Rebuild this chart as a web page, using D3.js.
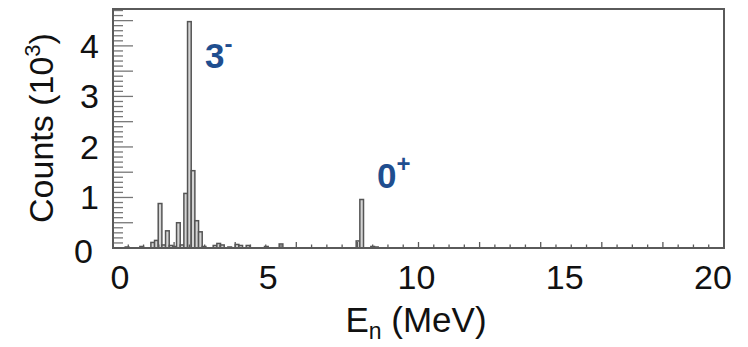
<!DOCTYPE html>
<html>
<head>
<meta charset="utf-8">
<script src="https://cdn.jsdelivr.net/npm/d3@7"></script>
<style>
  html, body { margin: 0; padding: 0; background: #ffffff; }
  svg { display: block; }
  text { font-family: "Liberation Sans", Arial, sans-serif; }
</style>
</head>
<body>
<svg id="chart" width="748" height="347"></svg>
<script>
// ---- data (counts in units of 10^3, energies in MeV) ----
const binWidth = 0.12;
const binLeft = [0.40, 0.88, 1.24, 1.36, 1.48, 1.60, 1.72, 1.84, 1.96, 2.08, 2.20, 2.32, 2.44, 2.56, 2.68, 2.80, 2.92, 3.28, 3.40, 3.52, 3.76, 4.00, 4.12, 4.36, 4.96, 5.44, 7.96, 8.08, 8.44, 8.56];
const counts  = [0.02, 0.03, 0.11, 0.15, 0.88, 0.06, 0.34, 0.05, 0.03, 0.50, 0.06, 1.08, 4.48, 1.53, 0.54, 0.32, 0.03, 0.05, 0.09, 0.06, 0.02, 0.07, 0.05, 0.05, 0.03, 0.08, 0.14, 0.96, 0.03, 0.02];
const xTickLabels = [0, 5, 10, 15, 20];
const yTickLabels = [0, 1, 2, 3, 4];
const peakLabels = [{ base: "3", sup: "-", e: 3.01, c: 3.56 }, { base: "0", sup: "+", e: 8.64, c: 1.19 }];

// ---- layout ----
const svg = d3.select("#chart");
const plot = { left: 113, right: 724, top: 9, bottom: 248 };
const x = d3.scaleLinear().domain([0, 20]).range([plot.left, plot.right]);
const y = d3.scaleLinear().domain([0, 4.73]).range([plot.bottom, plot.top]);
// tick labels in the figure are placed slightly inside the axis ends
const xLab = d3.scaleLinear().domain([0, 20]).range([plot.left + 7, plot.right - 11]);
const frameColor = "#5a5a5a";

// histogram bars
const bars = binLeft.map((e, i) => ({ e, c: counts[i] }));
svg.append("g").selectAll("rect").data(bars).join("rect")
  .attr("x", d => x(d.e))
  .attr("y", d => y(d.c))
  .attr("width", d => x(d.e + binWidth) - x(d.e))
  .attr("height", d => y(0) - y(d.c))
  .attr("fill", "#d4d4d4")
  .attr("stroke", "#555")
  .attr("stroke-width", 1.5);

// x axis ticks (inward), major every 2, minor every 0.5
const xMinor = d3.range(0, 20.001, 0.5);
svg.append("g").selectAll("line").data(xMinor).join("line")
  .attr("x1", d => x(d)).attr("x2", d => x(d))
  .attr("y1", plot.bottom)
  .attr("y2", d => plot.bottom - (Math.abs(d / 2 - Math.round(d / 2)) < 1e-6 ? 6 : 3.5))
  .attr("stroke", frameColor).attr("stroke-width", 1.3);

// y axis ticks (inward), major every 0.5, minor every 0.1
const yMinor = d3.range(0, 4.73, 0.1);
svg.append("g").selectAll("line").data(yMinor).join("line")
  .attr("y1", d => y(d)).attr("y2", d => y(d))
  .attr("x1", plot.left)
  .attr("x2", d => plot.left + (Math.abs(d / 0.5 - Math.round(d / 0.5)) < 1e-6 ? 20 : 10))
  .attr("stroke", "#777").attr("stroke-width", 1.3);

// frame
svg.append("rect")
  .attr("x", plot.left).attr("y", plot.top)
  .attr("width", plot.right - plot.left).attr("height", plot.bottom - plot.top)
  .attr("fill", "none").attr("stroke", frameColor).attr("stroke-width", 2);

// x tick labels
svg.append("g").selectAll("text").data(xTickLabels).join("text")
  .attr("x", d => xLab(d)).attr("y", 289)
  .attr("text-anchor", "middle")
  .attr("font-size", 34).attr("fill", "#111")
  .text(d => d);

// y tick labels
svg.append("g").selectAll("text").data(yTickLabels).join("text")
  .attr("x", d => d === 0 ? 93 : 99)
  .attr("y", d => d === 0 ? y(d) + 15 : y(d) + 12)
  .attr("text-anchor", "end")
  .attr("font-size", 34).attr("fill", "#111")
  .text(d => d);

// axis titles
const yt = svg.append("text")
  .attr("transform", "translate(53,128) rotate(-90)")
  .attr("text-anchor", "middle")
  .attr("font-size", 34).attr("fill", "#111");
yt.append("tspan").text("Counts (10");
yt.append("tspan").attr("font-size", 22).attr("dy", -13).text("3");
yt.append("tspan").attr("dy", 13).text(")");

const xt = svg.append("text")
  .attr("x", 416).attr("y", 332)
  .attr("text-anchor", "middle")
  .attr("font-size", 35).attr("fill", "#111");
xt.append("tspan").text("E");
xt.append("tspan").attr("font-size", 23).attr("dy", 7).text("n");
xt.append("tspan").attr("dy", -7).text(" (MeV)");

// peak labels
peakLabels.forEach(p => {
  const t = svg.append("text")
    .attr("x", x(p.e)).attr("y", y(p.c))
    .attr("font-size", 35).attr("font-weight", "bold").attr("fill", "#1f4e8f");
  t.append("tspan").text(p.base);
  t.append("tspan").attr("font-size", 24).attr("dy", -16).text(p.sup);
});
</script>
</body>
</html>
